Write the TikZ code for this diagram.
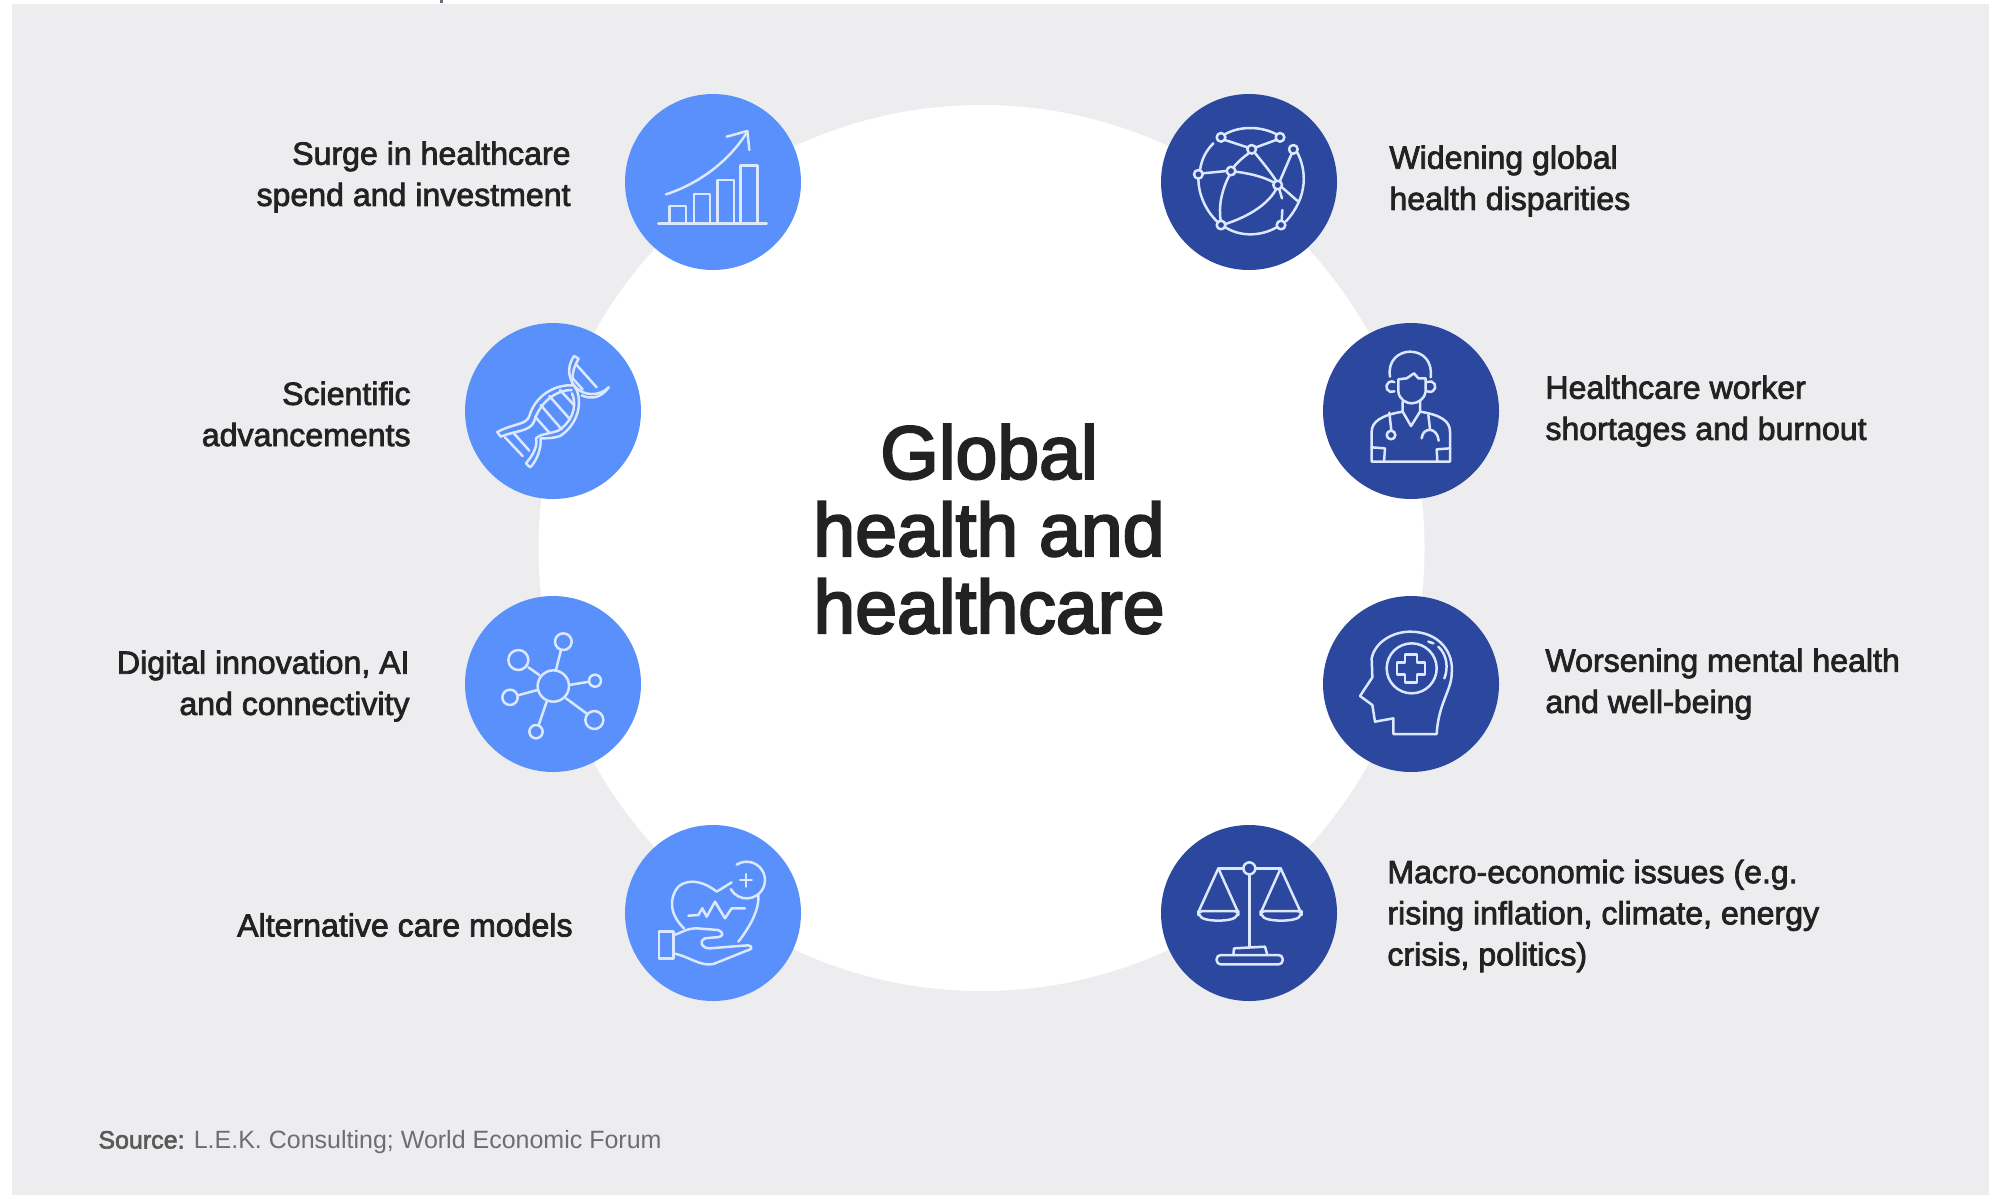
\documentclass[tikz,border=0pt]{standalone}
\usepackage{fontspec}
\setmainfont{Liberation Sans}
\newfontfamily\labfont[FakeBold=2.4]{Liberation Sans}
\newfontfamily\titlefont[FakeBold=3]{Liberation Sans}
\definecolor{panel}{HTML}{EDEDEF}
\definecolor{lblue}{HTML}{5A90FC}
\definecolor{dblue}{HTML}{2B479E}
\definecolor{ink}{HTML}{222222}
\definecolor{iconline}{HTML}{DCE8FF}
\definecolor{srcgrey}{HTML}{6E6E70}
\tikzset{
  lcirc/.style={circle,fill=lblue,draw=none,minimum size=88pt,inner sep=0pt},
  dcirc/.style={circle,fill=dblue,draw=none,minimum size=88pt,inner sep=0pt},
  lableft/.style={anchor=east,align=right,inner sep=0pt,text=ink,font=\labfont\fontsize{16.05}{20.6}\selectfont},
  labright/.style={anchor=west,align=left,inner sep=0pt,text=ink,font=\labfont\fontsize{16.05}{20.6}\selectfont},
  ic/.style={draw=iconline,line width=1.25pt,line cap=round,line join=round,fill=none},
  zoomed/.style={shift={#1},scale=0.33333}
}
\begin{document}
\begin{tikzpicture}[x=0.5pt,y=-0.5pt]
\useasboundingbox (0,0) rectangle (1989,1195);
\fill[white] (0,0) rectangle (1989,1195);
\fill[panel] (12,4) rectangle (1989,1195);
\fill[srcgrey] (440,0) rectangle (443,3);
\node[circle,fill=white,minimum size=443pt,inner sep=0pt] (hub) at (981.5,548) {};
\node[lcirc] (c1) at (713,182) {};
\node[lcirc] (c2) at (553,411) {};
\node[lcirc] (c3) at (553,684) {};
\node[lcirc] (c4) at (713,913) {};
\node[dcirc] (c5) at (1249,182) {};
\node[dcirc] (c6) at (1411,411) {};
\node[dcirc] (c7) at (1411,684) {};
\node[dcirc] (c8) at (1249,913) {};
\node[align=center,text=ink,font=\titlefont\fontsize{37.6}{38.6}\selectfont] (title) at (989,529) {Global\\health and\\healthcare};
\node[lableft] (l1) at (571,177) {Surge in healthcare\\spend and investment};
\node[lableft] (l2) at (411,414) {Scientific\\advancements};
\node[lableft] (l3) at (410,686) {Digital innovation, AI\\and connectivity};
\node[lableft] (l4) at (573,925) {Alternative care models};
\node[labright] (r1) at (1389,181) {Widening global\\health disparities};
\node[labright] (r2) at (1545,411) {Healthcare worker\\shortages and burnout};
\node[labright] (r3) at (1545,684) {Worsening mental health\\and well-being};
\node[labright] (r4) at (1387,916) {Macro-economic issues (e.g.\\rising inflation, climate, energy\\crisis, politics)};
\node[anchor=west,inner sep=0pt,text=srcgrey,font=\fontsize{12.5}{15}\selectfont] (src) at (98,1142) {{\labfont\color{black!65} Source:} L.E.K. Consulting; World Economic Forum};
% icon 1: chart
\begin{scope}[zoomed={(600,70)}]
\draw[ic] (175,460) -- (500,460);
\draw[ic] (208,460) rectangle (258,408);
\draw[ic] (282,460) rectangle (330,372);
\draw[ic] (352,460) rectangle (402,330);
\draw[ic] (422,460) rectangle (472,287);
\draw[ic] (198,373) .. controls (300,340) and (390,270) .. (442,185);
\draw[ic] (380,200) -- (442,183) -- (448,240);
\end{scope}
% icon 2: dna
\begin{scope}[zoomed={(450,310)}]
\draw[ic] (142,366) .. controls (190,340) and (230,345) .. (238,318) .. controls (255,260) and (310,222) .. (372,226) .. controls (400,262) and (450,258) .. (476,232);
\draw[ic] (142,366) -- (152,380) .. controls (195,362) and (240,365) .. (252,335) .. controls (268,280) and (315,240) .. (365,240);
\draw[ic] (395,256) .. controls (425,270) and (455,262) .. (476,232);
\draw[ic] (372,138) .. controls (345,180) and (360,210) .. (380,240) .. controls (400,290) and (375,350) .. (330,378) .. controls (310,385) and (290,385) .. (272,385) .. controls (275,420) and (255,460) .. (240,472);
\draw[ic] (372,138) -- (386,146) .. controls (372,170) and (366,190) .. (368,210);
\draw[ic] (366,250) .. controls (385,295) and (360,340) .. (325,362) .. controls (295,372) and (270,372) .. (258,385) .. controls (265,415) and (240,445) .. (228,460) -- (240,472);
\draw[ic] (255,320) -- (298,368);
\draw[ic] (272,285) -- (335,358);
\draw[ic] (298,258) -- (360,328);
\draw[ic] (330,240) -- (372,285);
\draw[ic] (165,382) -- (218,438);
\draw[ic] (190,368) -- (238,422);
\draw[ic] (380,165) -- (440,232);
\draw[ic] (368,205) -- (398,238);
\end{scope}
% icon 3: network
\begin{scope}[zoomed={(450,590)}]
\draw[ic] (310,288) circle[radius=47];
\draw[ic] (205,210) circle[radius=30];
\draw[ic] (340,155) circle[radius=25];
\draw[ic] (435,272) circle[radius=18];
\draw[ic] (433,390) circle[radius=27];
\draw[ic] (258,425) circle[radius=20];
\draw[ic] (180,322) circle[radius=23];
\draw[ic] (235,232) -- (268,255);
\draw[ic] (333,180) -- (318,240);
\draw[ic] (418,275) -- (357,285);
\draw[ic] (412,372) -- (348,325);
\draw[ic] (266,405) -- (290,335);
\draw[ic] (203,316) -- (263,300);
\end{scope}
% icon 4: heart in hand
\begin{scope}[zoomed={(610,820)}]
\draw[ic] (365,187) -- (320,215) .. controls (290,190) and (240,170) .. (205,200) .. controls (175,235) and (180,285) .. (222,325);
\draw[ic] (445,225) .. controls (448,270) and (420,320) .. (385,365);
\draw[ic] (380,134) arc[start angle=-123,end angle=150,radius=55];
\draw[ic] (390,180) -- (425,180);
\draw[ic] (408,162) -- (408,200);
\draw[ic] (235,287) -- (265,285) -- (277,265) -- (290,290) -- (315,245) -- (345,295) -- (365,265) -- (405,265);
\draw[ic] (147,335) rectangle (190,415);
\draw[ic] (190,345) .. controls (215,340) and (225,325) .. (260,325) -- (325,330) .. controls (345,340) and (340,352) .. (315,352) -- (285,355) .. controls (265,365) and (275,385) .. (300,385) -- (385,378) -- (415,376) .. controls (430,378) and (425,390) .. (410,392) -- (310,432) .. controls (270,440) and (240,410) .. (190,400);
\end{scope}
% icon 5: globe
\begin{scope}[zoomed={(1150,90)}]
\draw[ic] (226,132) .. controls (270,108) and (330,108) .. (378,132);
\draw[ic] (441,186) .. controls (470,240) and (475,320) .. (408,394);
\draw[ic] (380,412) .. controls (330,440) and (270,440) .. (226,412);
\draw[ic] (202,395) .. controls (165,360) and (145,310) .. (145,266);
\draw[ic] (150,240) .. controls (155,205) and (170,180) .. (190,160);
\draw[ic] (225,150) -- (292,172);
\draw[ic] (318,172) -- (378,150);
\draw[ic] (158,250) -- (230,243);
\draw[ic] (296,190) .. controls (275,205) and (260,220) .. (250,232);
\draw[ic] (256,245) .. controls (300,250) and (345,262) .. (372,278);
\draw[ic] (238,256) .. controls (215,300) and (205,350) .. (212,392);
\draw[ic] (315,189) .. controls (340,220) and (365,250) .. (378,272);
\draw[ic] (425,191) -- (390,272);
\draw[ic] (396,292) -- (445,335);
\draw[ic] (378,298) .. controls (350,350) and (280,385) .. (226,402);
\draw[ic] (388,298) -- (396,325);
\draw[ic] (397,360) -- (395,392);
\foreach \p in {(213,142),(305,178),(390,142),(430,178),(145,253),(243,243),(383,285),(213,405),(393,405)}
  \draw[ic] \p circle[radius=13];
\end{scope}
% icon 6: doctor
\begin{scope}[zoomed={(1310,320)}]
\draw[ic] (240,170) .. controls (232,120) and (268,95) .. (300,95) .. controls (340,95) and (368,125) .. (362,172);
\draw[ic] (265,178) -- (265,215) .. controls (268,240) and (290,250) .. (305,250) .. controls (325,250) and (345,235) .. (347,215) -- (347,175) -- (325,175) -- (312,160) -- (290,175) -- cycle;
\draw[ic] (253,214) arc[start angle=60,end angle=300,radius=16];
\draw[ic] (352,186) arc[start angle=-120,end angle=120,radius=16];
\draw[ic] (278,245) -- (278,275) -- (303,318) -- (330,275) -- (330,245);
\draw[ic] (278,275) .. controls (215,285) and (185,305) .. (185,335) -- (185,425) -- (420,425) -- (420,335) .. controls (420,305) and (395,285) .. (330,275);
\draw[ic] (185,382) -- (225,385) -- (222,425);
\draw[ic] (420,385) -- (380,388) -- (382,425);
\draw[ic] (238,278) -- (244,332);
\draw[ic] (243,345) circle[radius=13];
\draw[ic] (355,285) -- (360,327);
\draw[ic] (335,355) .. controls (338,320) and (382,320) .. (386,362);
\end{scope}
% icon 7: head
\begin{scope}[zoomed={(1310,590)}]
\draw[ic] (250,432) -- (250,385) -- (195,395) -- (187,345) -- (150,318) -- (187,262) -- (185,205) .. controls (195,155) and (250,125) .. (300,125) .. controls (390,125) and (432,190) .. (425,250) .. controls (425,300) and (385,340) .. (380,432) -- cycle;
\draw[ic] (305,235) circle[radius=75];
\draw[ic] (285,193) -- (321,193) -- (321,217) -- (345,217) -- (345,253) -- (321,253) -- (321,277) -- (285,277) -- (285,253) -- (261,253) -- (261,217) -- (285,217) -- cycle;
\draw[ic] (355,155) -- (370,160);
\draw[ic] (385,170) .. controls (412,195) and (415,235) .. (403,265);
\end{scope}
% icon 8: scales
\begin{scope}[zoomed={(1150,820)}]
\draw[ic] (298,145) circle[radius=18];
\draw[ic] (205,145) -- (280,145);
\draw[ic] (316,145) -- (392,145);
\draw[ic] (298,163) -- (298,380);
\draw[ic] (250,405) -- (252,385) -- (345,380) -- (352,405);
\draw[ic,rounded corners=2pt] (200,405) rectangle (398,433);
\draw[ic] (205,145) -- (147,272);
\draw[ic] (205,145) -- (262,272);
\draw[ic,rounded corners=2pt] (145,273) -- (265,273) -- (265,285) .. controls (240,305) and (170,305) .. (145,285) -- cycle;
\draw[ic] (392,145) -- (335,272);
\draw[ic] (392,145) -- (450,272);
\draw[ic,rounded corners=2pt] (332,273) -- (455,273) -- (455,285) .. controls (430,305) and (357,305) .. (332,285) -- cycle;
\end{scope}
\end{tikzpicture}
\end{document}
